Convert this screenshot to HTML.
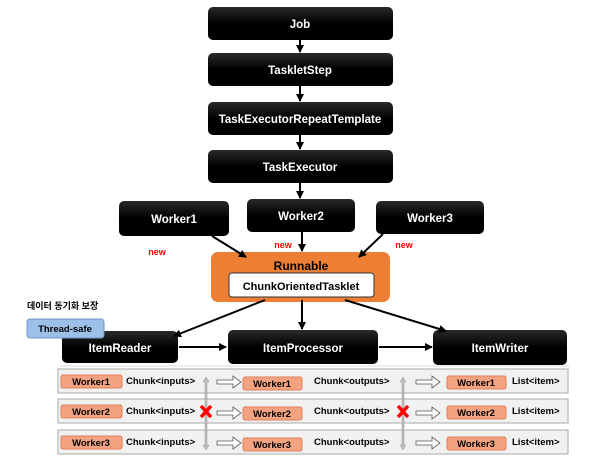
<!DOCTYPE html>
<html><head><meta charset="utf-8"><style>
html,body{margin:0;padding:0;background:#fff;}
text{font-family:"Liberation Sans","Noto Sans CJK KR",sans-serif;font-weight:bold;}
</style></head><body>
<svg width="610" height="468" viewBox="0 0 610 468" xmlns="http://www.w3.org/2000/svg">
<defs>
<marker id="ah" markerWidth="8" markerHeight="8" refX="7" refY="4" orient="auto" markerUnits="userSpaceOnUse"><path d="M0,0 L8,4 L0,8 z" fill="#000"/></marker>
<linearGradient id="bk" x1="0" y1="0" x2="0" y2="1"><stop offset="0" stop-color="#2a2a2a"/><stop offset="0.5" stop-color="#000"/><stop offset="1" stop-color="#000"/></linearGradient>
</defs>
<g fill="url(#bk)">
<rect x="208" y="7" width="185" height="33" rx="5"/>
<rect x="208" y="53" width="185" height="33" rx="5"/>
<rect x="208" y="102" width="185" height="33" rx="5"/>
<rect x="208" y="150" width="185" height="33" rx="5"/>
<rect x="119" y="201" width="110" height="35" rx="5"/>
<rect x="247" y="199" width="108" height="33" rx="5"/>
<rect x="376" y="201" width="108" height="33" rx="5"/>
<rect x="62" y="331" width="116" height="32" rx="5"/>
<rect x="228" y="330" width="150" height="34" rx="5"/>
<rect x="433" y="330" width="134" height="35" rx="5"/>
</g>
<g fill="#fff" font-size="11.5" text-anchor="middle">
<text x="300" y="28">Job</text>
<text x="300" y="74">TaskletStep</text>
<text x="300" y="123">TaskExecutorRepeatTemplate</text>
<text x="300" y="171">TaskExecutor</text>
<text x="174" y="223">Worker1</text>
<text x="301" y="220">Worker2</text>
<text x="430" y="222">Worker3</text>
<text x="120" y="352">ItemReader</text>
<text x="303" y="352">ItemProcessor</text>
<text x="500" y="352">ItemWriter</text>
</g>
<rect x="211" y="252" width="179" height="50" rx="7" fill="#ec7f33"/>
<text x="301" y="270" font-size="12" text-anchor="middle" fill="#000">Runnable</text>
<rect x="229" y="273" width="145" height="24" rx="3" fill="#fff" stroke="#333"/>
<text x="301" y="290" font-size="11" text-anchor="middle">ChunkOrientedTasklet</text>
<g stroke="#000" stroke-width="2" marker-end="url(#ah)">
<line x1="300" y1="40" x2="300" y2="52"/>
<line x1="300" y1="86" x2="300" y2="101"/>
<line x1="300" y1="135" x2="300" y2="149"/>
<line x1="300" y1="183" x2="300" y2="198"/>
<line x1="212" y1="236" x2="246" y2="257"/>
<line x1="302" y1="232" x2="302" y2="251"/>
<line x1="383" y1="234" x2="359" y2="257"/>
<line x1="265" y1="300" x2="174" y2="336"/>
<line x1="302" y1="300" x2="302" y2="329"/>
<line x1="345" y1="300" x2="446" y2="331"/>
<line x1="179" y1="347" x2="226" y2="347"/>
<line x1="379" y1="347" x2="432" y2="347"/>
</g>
<g fill="#f00" font-size="9" text-anchor="middle">
<text x="157" y="255">new</text>
<text x="283" y="248">new</text>
<text x="404" y="248">new</text>
</g>
<text x="27" y="309" font-size="9">데이터 동기화 보장</text>
<rect x="27" y="319" width="77" height="19" rx="3" fill="#9cc0e8" stroke="#6d98c8"/>
<text x="65" y="332" font-size="9.5" text-anchor="middle" fill="#000">Thread-safe</text>
<line x1="60" y1="366" x2="570" y2="366" stroke="#ddd"/>
<g>
<rect x="58" y="369" width="510" height="24" fill="#f1f1f1" stroke="#aaa"/>
<rect x="58" y="399" width="510" height="24" fill="#f1f1f1" stroke="#aaa"/>
<rect x="58" y="430" width="510" height="24" fill="#f1f1f1" stroke="#aaa"/>
</g>
<g fill="#f4a382" stroke="#e07f5a">
<rect x="61" y="375" width="61" height="13" rx="2"/><rect x="243" y="377" width="59" height="13" rx="2"/><rect x="447" y="376" width="59" height="13" rx="2"/>
<rect x="61" y="405" width="61" height="13" rx="2"/><rect x="243" y="407" width="59" height="13" rx="2"/><rect x="447" y="406" width="59" height="13" rx="2"/>
<rect x="61" y="436" width="61" height="13" rx="2"/><rect x="243" y="438" width="59" height="13" rx="2"/><rect x="447" y="437" width="59" height="13" rx="2"/>
</g>
<g font-size="9.5" fill="#000">
<text x="91" y="385" text-anchor="middle">Worker1</text><text x="272" y="387" text-anchor="middle">Worker1</text><text x="476" y="386" text-anchor="middle">Worker1</text>
<text x="91" y="415" text-anchor="middle">Worker2</text><text x="272" y="417" text-anchor="middle">Worker2</text><text x="476" y="416" text-anchor="middle">Worker2</text>
<text x="91" y="446" text-anchor="middle">Worker3</text><text x="272" y="448" text-anchor="middle">Worker3</text><text x="476" y="447" text-anchor="middle">Worker3</text>
<text x="126" y="384">Chunk&lt;inputs&gt;</text><text x="314" y="384">Chunk&lt;outputs&gt;</text><text x="512" y="384">List&lt;item&gt;</text>
<text x="126" y="414">Chunk&lt;inputs&gt;</text><text x="314" y="414">Chunk&lt;outputs&gt;</text><text x="512" y="414">List&lt;item&gt;</text>
<text x="126" y="445">Chunk&lt;inputs&gt;</text><text x="314" y="445">Chunk&lt;outputs&gt;</text><text x="512" y="445">List&lt;item&gt;</text>
</g>
<g fill="#fff" stroke="#555" stroke-width="0.8">
<path d="M217,380 h16 v-4 l8,6 l-8,6 v-4 h-16 z"/>
<path d="M217,411 h16 v-4 l8,6 l-8,6 v-4 h-16 z"/>
<path d="M217,441 h16 v-4 l8,6 l-8,6 v-4 h-16 z"/>
<path d="M416,380 h16 v-4 l8,6 l-8,6 v-4 h-16 z"/>
<path d="M416,411 h16 v-4 l8,6 l-8,6 v-4 h-16 z"/>
<path d="M416,441 h16 v-4 l8,6 l-8,6 v-4 h-16 z"/>
</g>
<g fill="#bdbdbd" stroke="#999" stroke-width="0.5">
<path d="M206,377 l-3,5 h2 v63 h-2 l3,5 l3,-5 h-2 v-63 h2 z"/>
<path d="M403,377 l-3,5 h2 v63 h-2 l3,5 l3,-5 h-2 v-63 h2 z"/>
</g>
<g stroke="#f00" stroke-width="3.5">
<line x1="201" y1="406" x2="211" y2="417"/><line x1="211" y1="406" x2="201" y2="417"/>
<line x1="398" y1="406" x2="408" y2="417"/><line x1="408" y1="406" x2="398" y2="417"/>
</g>
</svg>
</body></html>
